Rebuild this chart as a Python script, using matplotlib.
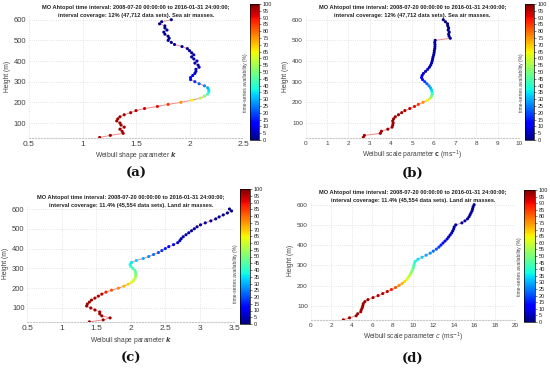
# Weibull k / c vertical profiles at MO Ahtopol, coloured by time-series availability
import numpy as np
import matplotlib.pyplot as plt

plt.rcParams['font.family'] = ['Liberation Sans', 'DejaVu Sans']

# heights (m)
height = np.arange(30, 610, 10)

# time-series availability (%) per height
avail_sea = [97, 97, 97, 97, 97, 97, 97, 97, 97, 97, 97, 97, 96, 96, 94, 90, 85, 75, 65, 57,
             50, 43, 38, 34, 30, 26, 22, 18, 14, 11, 9, 7, 6, 6, 5, 5, 5, 4, 4, 4,
             4, 3, 3, 3, 3, 3, 2, 2, 2, 2, 2, 2, 2, 1, 1, 1, 1, 1]
avail_land = [97, 97, 97, 97, 97, 97, 97, 97, 97, 97, 97, 97, 96, 96, 94, 88, 82, 76, 72, 68,
              63, 60, 57, 54, 51, 48, 46, 44, 41, 38, 35, 33, 30, 27, 24, 21, 18, 15, 12, 10,
              8, 6, 5, 5, 4, 4, 4, 3, 3, 3, 3, 2, 2, 2, 2, 1, 1, 1]

# (a) Weibull shape parameter k, sea air masses
k_sea = [1.16, 1.26, 1.38, 1.37, 1.35, 1.39, 1.36, 1.35, 1.32, 1.33, 1.35, 1.39, 1.45, 1.50, 1.58,
         1.70, 1.80, 1.92, 2.02, 2.10, 2.14, 2.17, 2.18, 2.18, 2.17, 2.14, 2.09, 2.05, 2.01, 2.01,
         2.03, 2.05, 2.06, 2.06, 2.09, 2.08, 2.05, 2.07, 2.04, 2.02, 2.04, 2.02, 2.00, 1.98, 1.93,
         1.86, 1.83, 1.80, 1.81, 1.80, 1.77, 1.76, 1.79, 1.77, 1.77, 1.72, 1.74, 1.83]
# (b) Weibull scale parameter c, sea air masses
c_sea = [2.70, 2.75, 3.50, 3.55, 3.85, 4.05, 4.08, 4.10, 4.08, 4.12, 4.20, 4.35, 4.50, 4.65, 4.88,
         5.10, 5.28, 5.50, 5.70, 5.83, 5.90, 5.93, 5.92, 5.90, 5.85, 5.78, 5.68, 5.58, 5.48, 5.43,
         5.46, 5.52, 5.62, 5.72, 5.80, 5.86, 5.90, 5.93, 5.95, 5.97, 6.00, 6.02, 6.03, 6.05, 6.06,
         6.06, 6.05, 6.07, 6.78, 6.72, 6.70, 6.73, 6.68, 6.70, 6.66, 6.65, 6.55, 6.45]
# (c) Weibull shape parameter k, land air masses
k_land = [1.40, 1.60, 1.70, 1.58, 1.55, 1.55, 1.48, 1.42, 1.36, 1.37, 1.40, 1.43, 1.48, 1.53, 1.58,
          1.64, 1.72, 1.82, 1.90, 1.96, 2.01, 2.04, 2.06, 2.07, 2.07, 2.07, 2.06, 2.03, 2.00, 1.99,
          2.01, 2.08, 2.18, 2.26, 2.33, 2.40, 2.45, 2.50, 2.55, 2.62, 2.68, 2.71, 2.73, 2.76, 2.80,
          2.84, 2.88, 2.92, 2.96, 3.01, 3.08, 3.16, 3.23, 3.28, 3.34, 3.40, 3.46, 3.43]
# (d) Weibull scale parameter c, land air masses
c_land = [3.20, 3.80, 4.45, 4.60, 4.90, 4.95, 5.05, 5.10, 5.15, 5.30, 5.60, 6.10, 6.60, 7.05, 7.50,
          7.90, 8.30, 8.65, 8.95, 9.20, 9.40, 9.55, 9.70, 9.80, 9.90, 10.00, 10.05, 10.10, 10.15, 10.25,
          10.50, 10.90, 11.30, 11.70, 12.00, 12.30, 12.55, 12.75, 12.95, 13.15, 13.35, 13.50, 13.65, 13.80, 13.90,
          14.00, 14.05, 14.20, 14.80, 15.10, 15.35, 15.50, 15.60, 15.70, 15.80, 15.85, 15.90, 16.00]

title1 = "MO Ahtopol time interval: 2008-07-20 00:00:00 to 2016-01-31 24:00:00;"
title2_sea = "interval coverage: 12% (47,712 data sets). Sea air masses."
title2_land = "interval coverage: 11.4% (45,554 data sets). Land air masses."

W, H = 550, 371
fig = plt.figure(figsize=(W / 100, H / 100), dpi=100)


def box(x0, y0, x1, y1):
    return [x0 / W, 1 - y1 / H, (x1 - x0) / W, (y1 - y0) / H]


def panel(xv, av, xlim, xticks, xpx, y100, y600, cbpx, cblab, t2, xlabel, tag, tagy, fs_x, fs_y):
    lo, hi = 28, 620
    s = (y100 - y600) / 500
    x0, x1 = xpx
    ax = fig.add_axes(box(x0, y600 - (hi - 600) * s, x1, y100 + (100 - lo) * s))
    ax.plot(xv, height, color='#f08a8a', lw=0.7, zorder=2)
    sc = ax.scatter(xv, height, c=av, cmap='jet', vmin=0, vmax=100, s=5,
                    edgecolors='none', zorder=3)
    ax.set_xlim(xlim)
    ax.set_ylim(lo, hi)
    ax.set_xticks(xticks)
    ax.set_xticklabels([('%g' % t) for t in xticks])
    ax.set_yticks([100, 200, 300, 400, 500, 600])
    ax.grid(True, color='#dcdcdc', linestyle=':', lw=0.6)
    for sp in ax.spines.values():
        sp.set_visible(False)
    ax.spines['bottom'].set_visible(True)
    ax.spines['bottom'].set_color('#c8c8c8')
    ax.spines['bottom'].set_linestyle(':')
    ax.tick_params(axis='x', length=0, pad=2, labelsize=fs_x, colors='#404040')
    ax.tick_params(axis='y', length=0, pad=2, labelsize=fs_y, colors='#404040')
    ax.set_ylabel('Height (m)', fontsize=4.8, color='#404040', labelpad=2)
    ax.set_xlabel(xlabel, fontsize=4.8, color='#404040', labelpad=2)

    cx = (x0 + x1) / 2
    fig.text(cx / W, 1 - (y600 - 12) / H, title1, ha='center', va='center',
             fontsize=4.1, weight='bold', color='#222222')
    fig.text(cx / W, 1 - (y600 - 4) / H, t2, ha='center', va='center',
             fontsize=4.1, weight='bold', color='#222222')
    fig.text(cx / W, 1 - tagy / H, tag, ha='center', va='center',
             fontsize=9.5, family='DejaVu Serif', weight='bold', color='#111111')

    c0, cy0, c1, cy1 = cbpx
    cax = fig.add_axes(box(c0, cy0, c1, cy1))
    cb = fig.colorbar(sc, cax=cax)
    cb.set_ticks(np.arange(0, 101, 5))
    cb.ax.tick_params(labelsize=4, length=1.5, width=0.4, pad=1, colors='#222222')
    cb.outline.set_linewidth(0.5)
    fig.text(cblab[0] / W, 1 - cblab[1] / H, 'time-series availability (%)', rotation=90,
             ha='center', va='center', fontsize=3.6, color='#404040')


panel(k_sea, avail_sea, (0.5, 2.5), [0.5, 1, 1.5, 2, 2.5], (29, 243), 123, 19.7,
      (250, 4, 259, 140), (245, 83), title2_sea,
      r'Weibull shape parameter $\mathbfit{k}$', '(a)', 173, 6, 5.5)
panel(c_sea, avail_sea, (0, 10), list(range(0, 11)), (305.7, 519), 123, 19.7,
      (525, 4, 534, 140), (522, 83), title2_sea,
      r'Weibull scale parameter $\mathbf{c}$ (ms$^{-1}$)', '(b)', 173, 4.6, 4.6)
panel(k_land, avail_land, (0.5, 3.5), [0.5, 1, 1.5, 2, 2.5, 3, 3.5], (27.3, 234.3), 308, 209,
      (240, 189, 250, 324), (236, 274), title2_land,
      r'Weibull shape parameter $\mathbfit{k}$', '(c)', 358, 6, 5.5)
panel(c_land, avail_land, (0, 20), list(range(0, 21, 2)), (310.7, 515), 305.7, 204.7,
      (524, 190, 535, 322), (520, 267), title2_land,
      r'Weibull scale parameter $c$ (ms$^{-1}$)', '(d)', 358, 4.6, 4.6)

fig.savefig('out.png', dpi=100)
